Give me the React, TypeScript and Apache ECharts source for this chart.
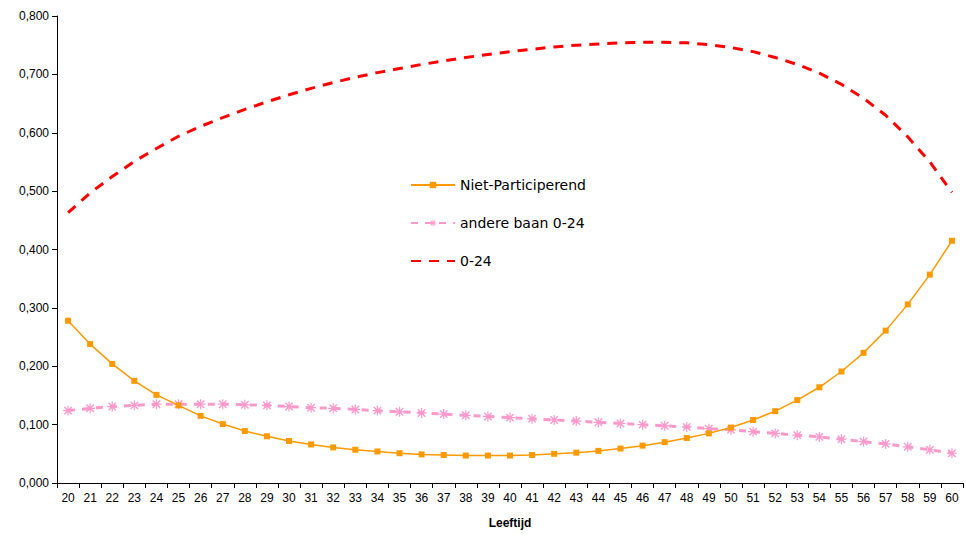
import React, { useEffect, useRef } from "react";
import * as echarts from "echarts";

const ages = [
  "20","21","22","23","24","25","26","27","28","29","30","31","32","33","34","35","36","37","38","39","40",
  "41","42","43","44","45","46","47","48","49","50","51","52","53","54","55","56","57","58","59","60",
];

const nietParticiperend = [
  0.278, 0.238, 0.204, 0.175, 0.151, 0.133, 0.115, 0.101, 0.089, 0.080, 0.072,
  0.066, 0.061, 0.057, 0.054, 0.051, 0.049, 0.048, 0.047, 0.047, 0.047,
  0.048, 0.050, 0.052, 0.055, 0.059, 0.064, 0.070, 0.077, 0.085, 0.095,
  0.108, 0.123, 0.142, 0.164, 0.191, 0.223, 0.261, 0.306, 0.357, 0.415,
];

const andereBaan = [
  0.124, 0.128, 0.131, 0.133, 0.135, 0.135, 0.135, 0.135, 0.134, 0.133, 0.131,
  0.129, 0.128, 0.126, 0.124, 0.122, 0.120, 0.118, 0.116, 0.114, 0.112,
  0.110, 0.108, 0.106, 0.104, 0.102, 0.100, 0.098, 0.096, 0.093, 0.091,
  0.088, 0.085, 0.082, 0.079, 0.075, 0.071, 0.067, 0.062, 0.057, 0.051,
];

const nul24 = [
  0.463, 0.497, 0.525, 0.551, 0.573, 0.594, 0.611, 0.626, 0.640, 0.653, 0.665,
  0.676, 0.686, 0.695, 0.703, 0.710, 0.717, 0.723, 0.729, 0.734, 0.739,
  0.743, 0.747, 0.750, 0.752, 0.754, 0.755, 0.755, 0.754, 0.751, 0.746,
  0.739, 0.729, 0.717, 0.702, 0.683, 0.659, 0.630, 0.593, 0.550, 0.498,
];

const seriesNames = ["Niet-Participerend", "andere baan 0-24", "0-24"];

const asterisk =
  "path://M4.4,0H5.6V10H4.4Z M0.8,1.8L1.8,0.8L9.2,8.2L8.2,9.2Z M8.2,0.8L9.2,1.8L1.8,9.2L0.8,8.2Z M0,4.4H10V5.6H0Z";

export default function App() {
  const ref = useRef<HTMLDivElement>(null);
  useEffect(() => {
    if (!ref.current) return;
    const chart = echarts.init(ref.current, null, { renderer: "svg" });
    const font = "'Liberation Sans', Arial, sans-serif";
    const legendFont = "'DejaVu Sans', Verdana, sans-serif";
    chart.setOption({
      animation: false,
      backgroundColor: "#ffffff",
      textStyle: { fontFamily: font },
      grid: { left: 57, right: 3, top: 16, bottom: 56, containLabel: false },
      legend: {
        orient: "vertical",
        left: 405,
        top: 173,
        itemWidth: 44,
        itemHeight: 8,
        itemGap: 24,
        textStyle: { fontFamily: legendFont, fontSize: 14, color: "#000" },
        data: [
          { name: seriesNames[0] },
          { name: seriesNames[1] },
          { name: seriesNames[2], itemStyle: { color: "rgba(0,0,0,0)", borderWidth: 0, opacity: 0 } },
        ],
      },
      xAxis: {
        type: "category",
        data: ages,
        boundaryGap: true,
        name: "Leeftijd",
        nameLocation: "middle",
        nameGap: 34,
        nameTextStyle: { fontFamily: font, fontSize: 12, fontWeight: "bold", color: "#000" },
        axisLine: { lineStyle: { color: "#000", width: 1 } },
        axisTick: { show: true, inside: false, length: 5, interval: 0, lineStyle: { color: "#000" } },
        axisLabel: { interval: 0, fontSize: 12, color: "#000", margin: 9, fontFamily: font },
        splitLine: { show: false },
      },
      yAxis: {
        type: "value",
        min: 0,
        max: 0.8,
        interval: 0.1,
        axisLine: { show: true, lineStyle: { color: "#000", width: 1 } },
        axisTick: { show: true, inside: false, length: 5, lineStyle: { color: "#000" } },
        axisLabel: {
          fontSize: 12,
          color: "#000",
          margin: 8,
          fontFamily: font,
          formatter: (v: number) => v.toFixed(3).replace(".", ","),
        },
        splitLine: { show: false },
      },
      series: [
        {
          name: seriesNames[0],
          type: "line",
          data: nietParticiperend,
          color: "#FF9900",
          lineStyle: { color: "#FF9900", width: 1.5 },
          symbol: "rect",
          symbolSize: 6,
          itemStyle: { color: "#FF9900" },
          z: 3,
        },
        {
          name: seriesNames[1],
          type: "line",
          data: andereBaan,
          color: "#FF99CC",
          lineStyle: { color: "#FF99CC", width: 3, type: [7, 7] },
          symbol: asterisk,
          symbolSize: 10,
          itemStyle: { color: "#FF99CC" },
          z: 2,
        },
        {
          name: seriesNames[2],
          type: "line",
          data: nul24,
          color: "#FF0000",
          lineStyle: { color: "#FF0000", width: 3, type: [10, 8] },
          symbol: "none",
          itemStyle: { color: "#FF0000" },
          z: 1,
        },
      ],
    });
    return () => chart.dispose();
  }, []);
  return (
    <div
      ref={ref}
      style={{ position: "fixed", left: 0, top: 0, width: 966, height: 539, background: "#fff" }}
    />
  );
}
